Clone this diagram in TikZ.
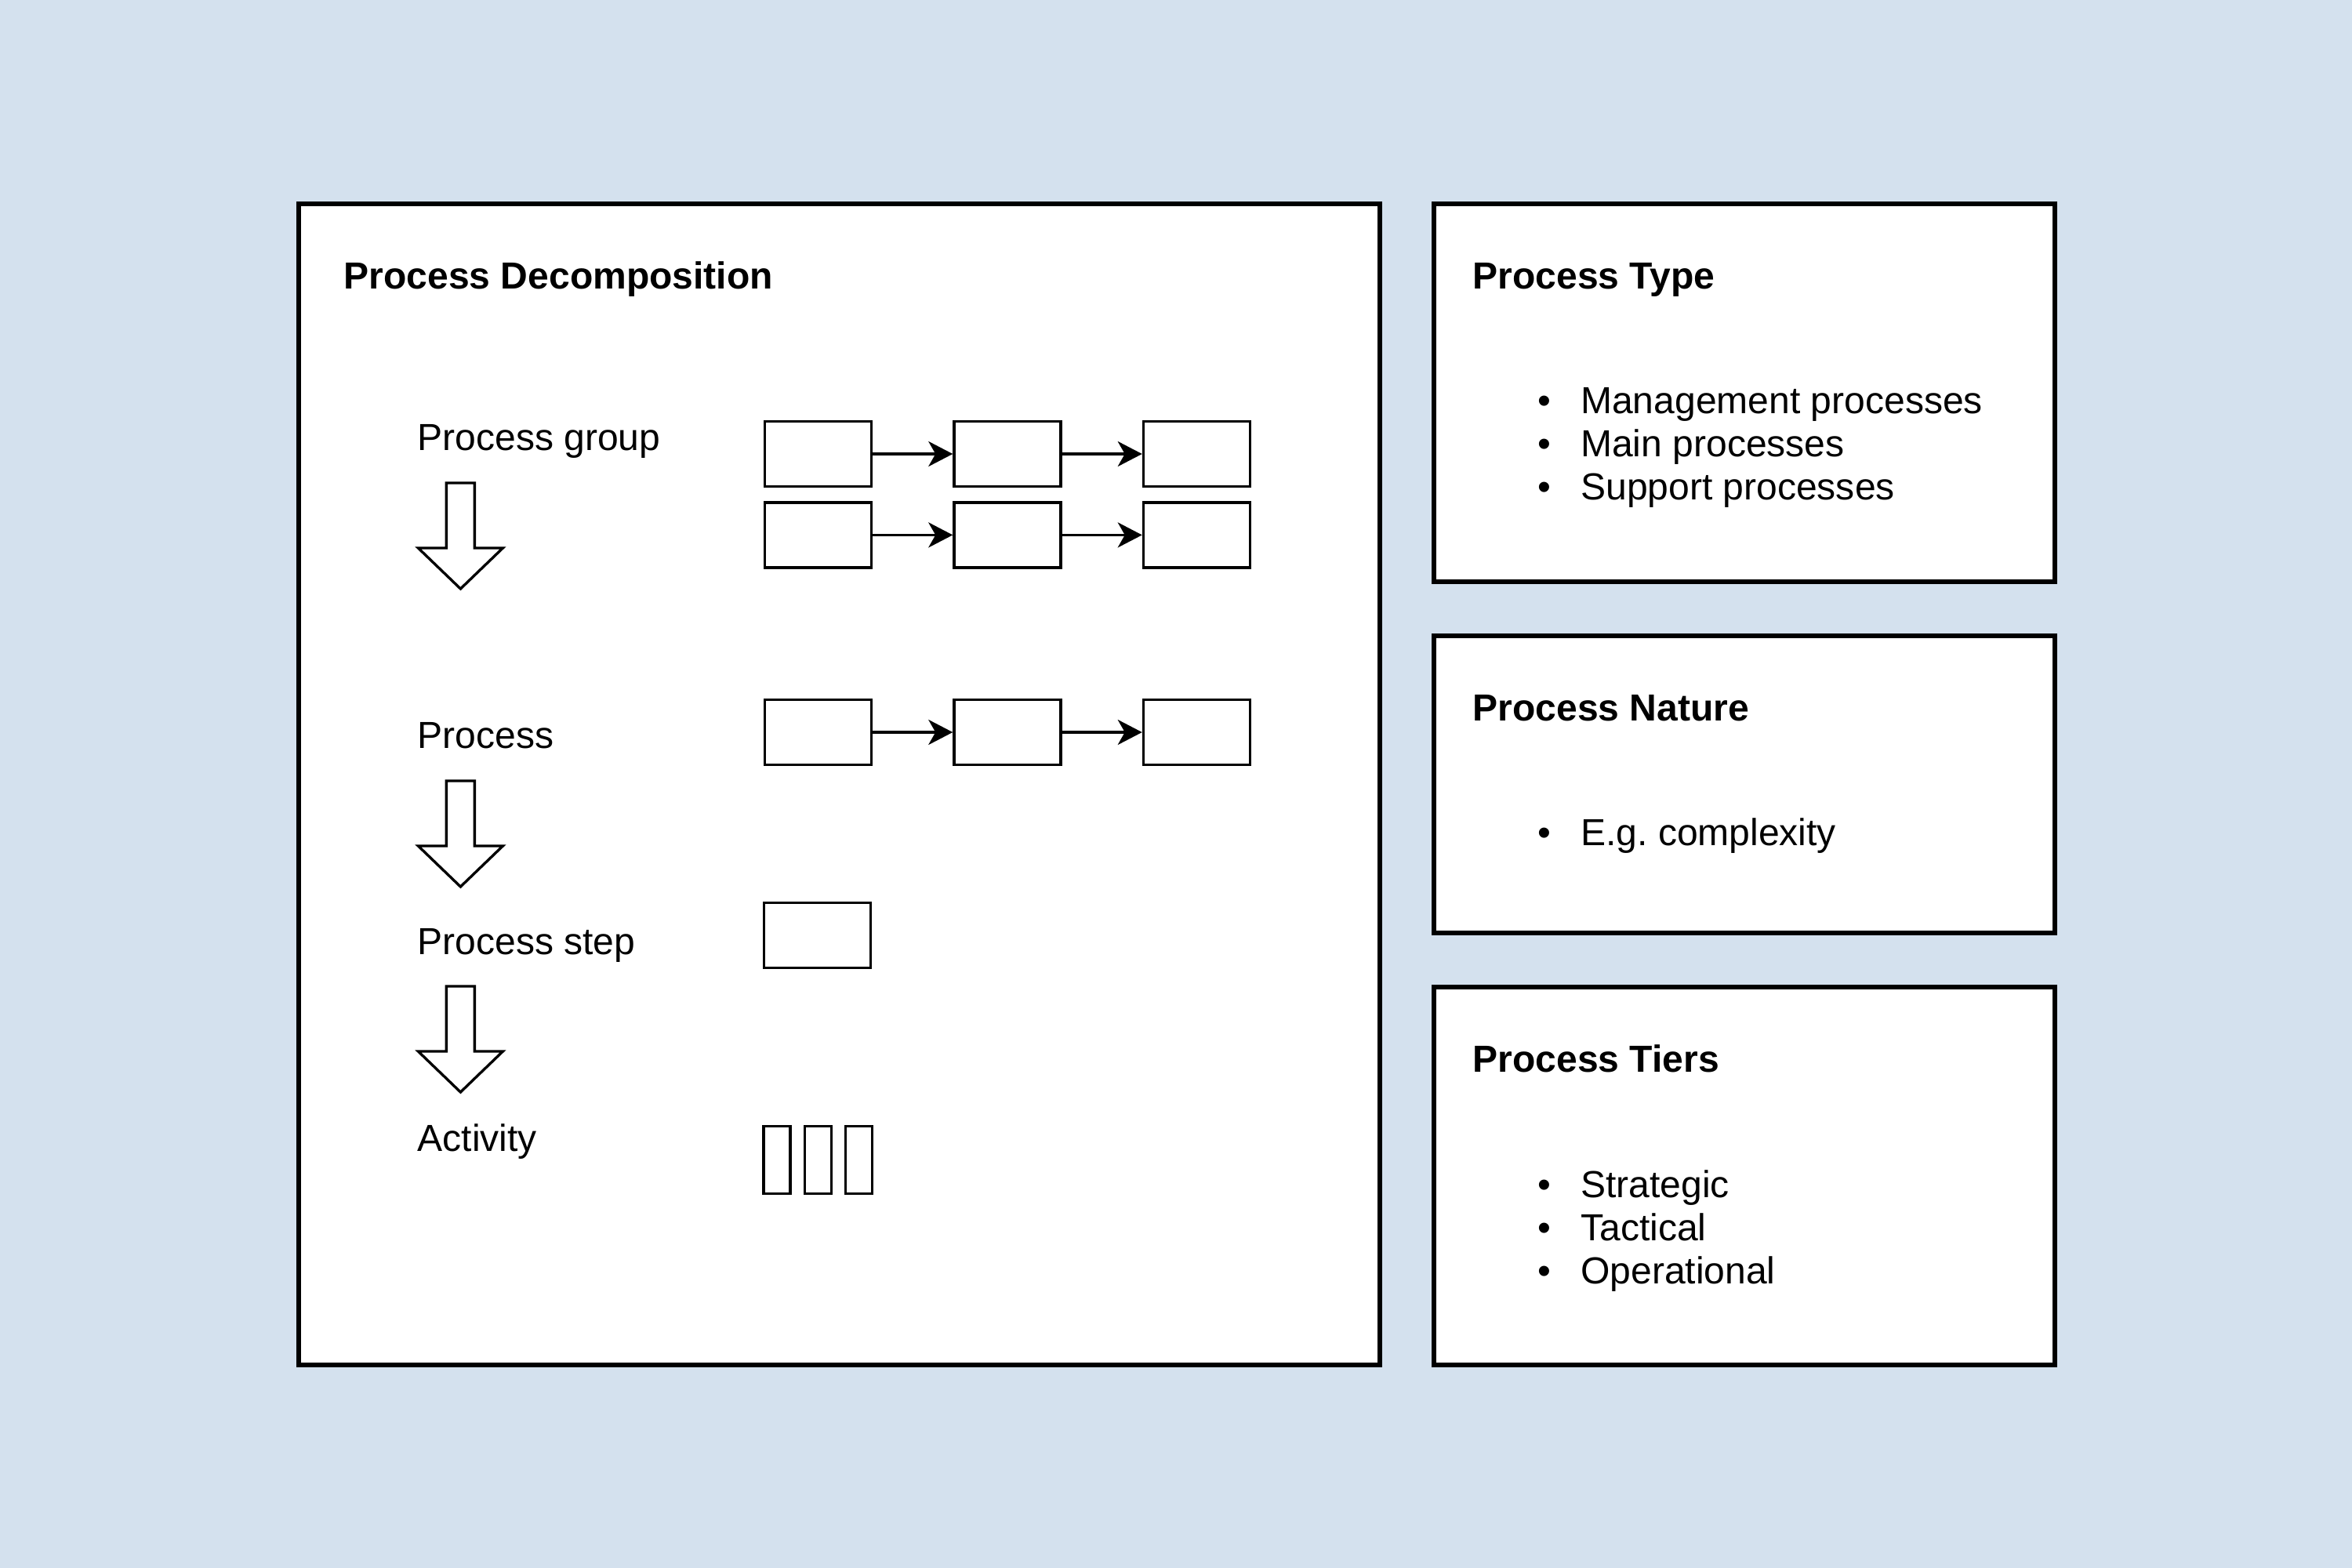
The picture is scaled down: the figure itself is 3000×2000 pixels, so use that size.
\documentclass[tikz,border=0pt]{standalone}
\usepackage{fontspec}
\setmainfont{Liberation Sans}
\usepackage{tikz}
\usetikzlibrary{arrows.meta,positioning}
\definecolor{bgblue}{RGB}{212,225,238}
\tikzset{
  frame/.style={draw=black,fill=white,line width=1.9pt},
  pbox/.style={draw=black,fill=white,line width=0.95pt,minimum width=1.36cm,minimum height=0.83cm,inner sep=0pt},
  abox/.style={pbox,minimum width=0.34cm,minimum height=0.86cm},
  lbl/.style={anchor=base west,inner sep=0pt,font=\fontsize{13.66}{15.65}\selectfont},
  ttl/.style={lbl,font=\fontsize{13.66}{15.65}\selectfont\bfseries},
  flow/.style={line width=0.95pt,-{Stealth[length=0.31cm,width=0.32cm,inset=0.09cm]}}
}
\newcommand{\bul}{\textbullet\hspace{0.377cm}}

\begin{document}
\begin{tikzpicture}[x=0.01cm,y=-0.01cm]
        \fill[bgblue] (0,0) rectangle (3000,2000);
        \useasboundingbox (0,0) rectangle (3000,2000);
        % panels
        \draw[frame] (381,260) rectangle (1760,1741);
        \draw[frame] (1829,260) rectangle (2621,742);
        \draw[frame] (1829,811) rectangle (2621,1190);
        \draw[frame] (1829,1259) rectangle (2621,1741);
        % titles
        \node[ttl] (decomp) at (438,368) {Process Decomposition};
        \node[ttl] (ptype) at (1878,368) {Process Type};
        \node[ttl] (pnature) at (1878,919) {Process Nature};
        \node[ttl] (ptiers) at (1878,1367) {Process Tiers};
        % lists
        \node[lbl] (typelist) at (1961,527) {\begin{tabular}[t]{@{}l@{}}\bul Management processes\\ \bul Main processes\\ \bul Support processes\end{tabular}};
        \node[lbl] (naturelist) at (1961,1078) {\begin{tabular}[t]{@{}l@{}}\bul E.g.\ complexity\end{tabular}};
        \node[lbl] (tierslist) at (1961,1527) {\begin{tabular}[t]{@{}l@{}}\bul Strategic\\ \bul Tactical\\ \bul Operational\end{tabular}};
        % levels
        \node[lbl] (pgroup) at (532,574) {Process group};
        \node[lbl] (proc) at (532,954) {Process};
        \node[lbl] (pstep) at (532,1217) {Process step};
        \node[lbl] (pact) at (532,1468) {Activity};
        \foreach \t in {616,996,1258}
            \draw[line width=0.95pt,fill=white] (569.4,\t) -- (605.4,\t) -- (605.4,\t+83) -- (641.4,\t+83)
                -- (587.4,\t+135) -- (533.4,\t+83) -- (569.4,\t+83) -- cycle;
        % boxes
        \node[pbox] (g1-1) at (1043.5,579) {};
        \node[pbox] (g2-1) [below=0.17cm of g1-1] {};
        \node[pbox] (p-1) at (1043.5,934) {};
        \foreach \r in {g1,g2,p} {
            \node[pbox] (\r-2) [right=1.02cm of \r-1] {};
            \node[pbox] (\r-3) [right=1.02cm of \r-2] {};
            \draw[flow] (\r-1) -- (\r-2);
            \draw[flow] (\r-2) -- (\r-3);
        }
        \node[pbox] (s-1) at (1042.5,1193) {};
        \node[abox] (a-1) at (991,1479.5) {};
        \node[abox] (a-2) [right=0.15cm of a-1] {};
        \node[abox] (a-3) [right=0.15cm of a-2] {};
\end{tikzpicture}
\end{document}
